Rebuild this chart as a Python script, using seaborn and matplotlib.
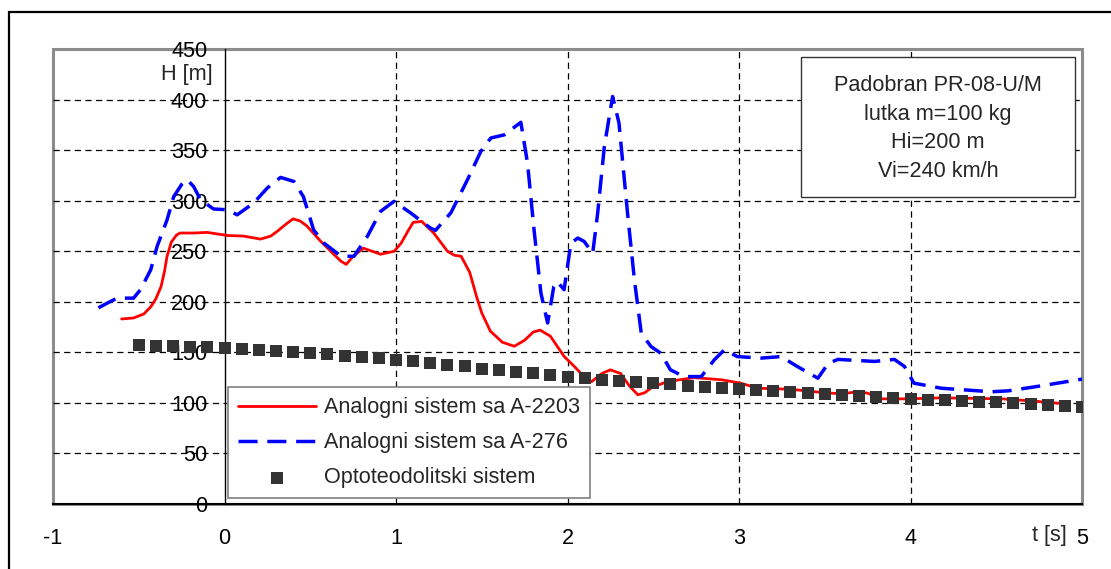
import matplotlib
matplotlib.use("Agg")
import matplotlib.pyplot as plt
from matplotlib.patches import Rectangle
import seaborn as sns
import pandas as pd

sns.set_style("white")
plt.rcParams["font.family"] = ["Liberation Sans", "DejaVu Sans"]
plt.rcParams["axes.unicode_minus"] = False

# ─── Data ─────────────────────────────────────────────────────────────────────

red_t = [-0.60, -0.53, -0.47, -0.43, -0.40, -0.37, -0.35, -0.335, -0.31, -0.28,
         -0.26, -0.18, -0.10, 0.02, 0.11, 0.21, 0.27, 0.31, 0.36, 0.40,
         0.44, 0.48, 0.56, 0.64, 0.68, 0.71, 0.75, 0.81, 0.86, 0.91,
         0.99, 1.03, 1.07, 1.10, 1.15, 1.22, 1.30, 1.34, 1.38, 1.43,
         1.47, 1.50, 1.55, 1.62, 1.69, 1.75, 1.80, 1.84, 1.90, 1.98,
         2.04, 2.09, 2.14, 2.20, 2.25, 2.31, 2.36, 2.41, 2.45, 2.49,
         2.58, 2.74, 2.90, 3.01, 3.11, 3.30, 3.50, 3.60, 3.69, 3.75,
         3.83, 3.99, 4.18, 4.53, 4.70, 4.86, 4.92]
red_h = [183, 184, 188, 195, 203, 215, 230, 245, 259, 266,
         268, 268, 268.6, 265.5, 265, 262, 265, 270, 277, 282,
         280, 275, 260, 246.5, 240, 237, 245, 253, 250, 247,
         250, 258, 270, 278.5, 279.5, 268, 250, 246, 245, 229,
         205, 189, 171, 160, 156, 162, 170, 172, 166, 146,
         136, 127, 121, 129, 132.7, 129, 117, 108, 110, 115,
         121, 125, 122.8, 119.5, 114.5, 113.5, 110, 109, 111, 109.6,
         104, 104, 105, 104, 102, 99.7, 99]

blue_t = [-0.735, -0.68, -0.626, -0.53, -0.49, -0.43, -0.393, -0.335, -0.296, -0.25,
          -0.218, -0.18, -0.14, -0.064, 0.016, 0.074, 0.17, 0.25, 0.327, 0.405,
          0.46, 0.52, 0.58, 0.68, 0.755, 0.833, 0.91, 0.988, 1.086, 1.20,
          1.23, 1.32, 1.417, 1.495, 1.553, 1.63, 1.728, 1.767, 1.805, 1.845,
          1.884, 1.92, 1.94, 1.98, 2.02, 2.06, 2.097, 2.147, 2.176, 2.215,
          2.263, 2.30, 2.35, 2.39, 2.43, 2.487, 2.545, 2.60, 2.68, 2.78,
          2.856, 2.915, 2.99, 3.13, 3.245, 3.34, 3.46, 3.52, 3.577, 3.79,
          3.906, 3.965, 4.02, 4.18, 4.47, 4.57, 4.76, 5.0]
blue_h = [194, 199, 203.6, 203.6, 212, 231.7, 254.8, 281, 304, 316,
          320.8, 314, 301, 291.8, 291, 286, 297.7, 312.6, 323, 319,
          304, 271, 258, 245, 245, 264.7, 289.4, 299.3, 287.8, 273,
          270.6, 288, 320.8, 348.8, 362, 365, 377.5, 337, 271, 208.6,
          179, 215, 220, 212, 258, 263, 259.7, 248, 287.8, 353.8,
          403, 377, 287.8, 221.8, 169, 155.7, 149, 132.7, 126, 126,
          142.6, 152.5, 145.8, 144.3, 145.8, 136, 124.4, 139, 143, 141,
          143, 136, 119.5, 114.5, 111, 111.9, 116.8, 123.5]

opt_t = [round(-0.5 + 0.1 * i, 1) for i in range(56)]
opt_h = [157, 156.5, 156, 155.5, 155, 154, 153, 152, 151, 150,
         149, 148, 146.5, 145, 144, 142.5, 141, 139, 137.5, 136,
         134, 132.5, 131, 129.5, 128, 126, 124.5, 123, 122, 121,
         119.5, 118.5, 117, 116, 114.5, 113.5, 112.5, 111.5, 110.5, 109.5,
         108.5, 107.5, 107, 106, 105, 104, 103, 102.5, 102, 101,
         100.5, 99.5, 99, 98, 97, 96]

x_ticks = [-1, 0, 1, 2, 3, 4, 5]
y_ticks = [0, 50, 100, 150, 200, 250, 300, 350, 400, 450]
x_grid = [1, 2, 3, 4]
y_grid = [50, 100, 150, 200, 250, 300, 350, 400]

series_labels = ["Analogni sistem sa A-2203", "Analogni sistem sa A-276",
                 "Optoteodolitski sistem"]
info_lines = ["Padobran PR-08-U/M", "lutka m=100 kg", "Hi=200 m", "Vi=240 km/h"]

red_df = pd.DataFrame({"t": red_t, "H": red_h})
blue_df = pd.DataFrame({"t": blue_t, "H": blue_h})
opt_df = pd.DataFrame({"t": opt_t, "H": opt_h})

# ─── Figure ───────────────────────────────────────────────────────────────────

FS = 15.6
fig = plt.figure(figsize=(11.11, 5.69), dpi=100)
ax = fig.add_axes([53 / 1111, 65 / 569, 1029 / 1111, 455 / 569])

for y in y_grid:
    ax.axhline(y, color="black", lw=0.9, dashes=(5, 3.5), zorder=1)
for x in x_grid:
    ax.axvline(x, color="black", lw=0.9, dashes=(5, 3.5), zorder=1)

sns.lineplot(data=red_df, x="t", y="H", ax=ax, color="#ff0000", lw=2.0,
             label=series_labels[0], zorder=3, estimator=None, sort=False)
sns.lineplot(data=blue_df, x="t", y="H", ax=ax, color="#0000ff", lw=2.5,
             dashes=(5.5, 2.8), label=series_labels[1], zorder=3,
             estimator=None, sort=False)
sns.scatterplot(data=opt_df, x="t", y="H", ax=ax, color="#333333", marker="s",
                s=72, linewidth=0, label=series_labels[2], zorder=4)

ax.set_xlim(-1, 5)
ax.set_ylim(0, 450)
ax.set_xticks(x_ticks)
ax.set_yticks(y_ticks)
ax.set_xlabel("")
ax.set_ylabel("")

# Excel style: vertical axis crosses at t = 0, grey plot-area frame
for side in ["top", "right"]:
    ax.spines[side].set_visible(False)
ax.spines["left"].set_position(("data", 0))
ax.spines["left"].set_color("black")
ax.spines["left"].set_linewidth(1.0)
ax.spines["bottom"].set_color("black")
ax.spines["bottom"].set_linewidth(1.5)
ax.add_patch(Rectangle((0, 0), 1, 1, transform=ax.transAxes, fill=False,
                       edgecolor="#8c8c8c", lw=2.2, zorder=0.5, clip_on=False))

ax.tick_params(axis="both", direction="inout", length=7, width=1,
               color="black", labelsize=FS, labelcolor="black")
ax.tick_params(axis="y", pad=9)
ax.tick_params(axis="x", pad=14)

ax.annotate("H [m]", xy=(0, 425), xycoords="data", xytext=(-12, 0),
            textcoords="offset pixels", ha="right", va="center", fontsize=FS)
ax.annotate("t [s]", xy=(4.81, 0), xycoords="data", xytext=(0, -32),
            textcoords="offset pixels", ha="center", va="center", fontsize=FS)

# info box in the upper right corner
ax.add_patch(Rectangle((0.727, 0.675), 0.266, 0.307, transform=ax.transAxes,
                       facecolor="white", edgecolor="#333333", lw=1.0, zorder=5))
ax.text(0.86, 0.825, "\n".join(info_lines), transform=ax.transAxes,
        ha="center", va="center", fontsize=FS, linespacing=1.48, zorder=6)

leg = ax.legend(loc="lower left", bbox_to_anchor=(0.170, 0.013),
                borderaxespad=0, fontsize=FS, frameon=True, fancybox=False,
                edgecolor="#808080", framealpha=1, handlelength=3.6,
                handletextpad=0.4, labelspacing=0.65, borderpad=0.45)
leg.get_frame().set_linewidth(1.2)
leg.set_zorder(7)

# outer chart border (only the left and top edges fall inside the image)
fig.add_artist(Rectangle((9 / 1111, -0.1), 1.2, 1 - 12 / 569 + 0.1,
                         transform=fig.transFigure, fill=False,
                         edgecolor="black", lw=1.6))

fig.savefig("out.png", dpi=100)
